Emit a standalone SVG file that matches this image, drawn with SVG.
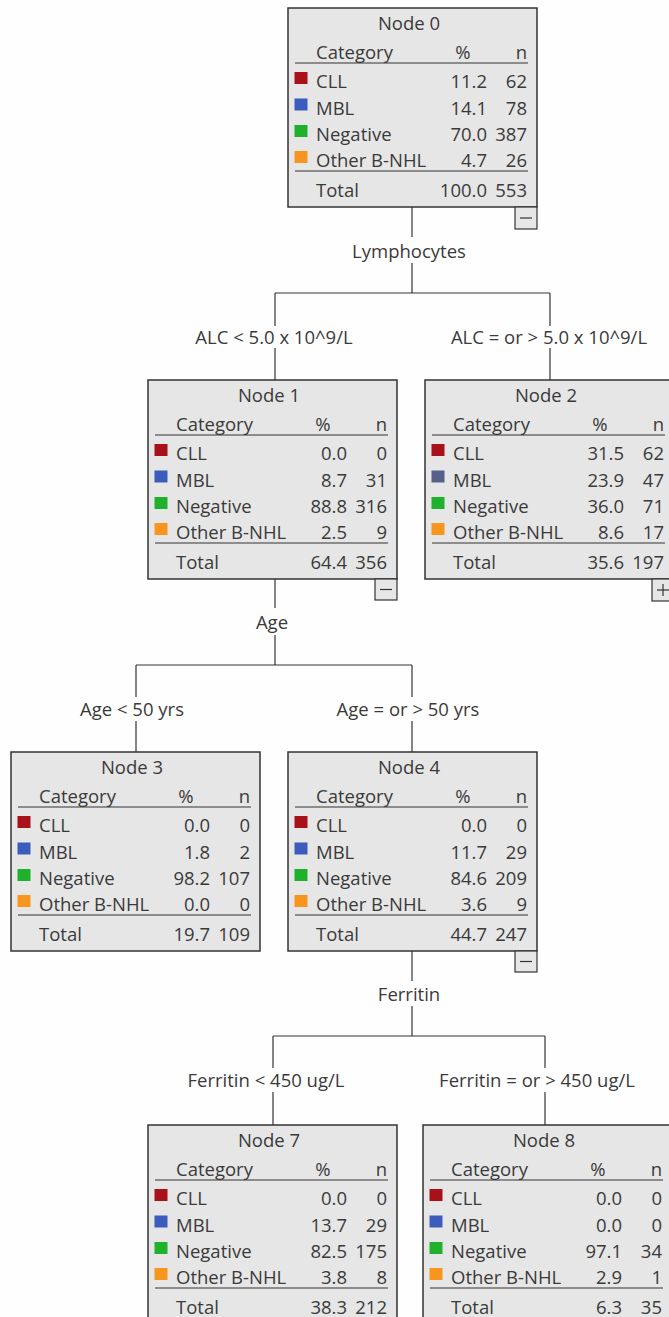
<svg xmlns="http://www.w3.org/2000/svg" width="669" height="1317" viewBox="0 0 669 1317">
<style>
text{font-family:"Open Sans","Noto Sans","Liberation Sans",sans-serif;font-size:18.5px;fill:#3a3a3a}
.box{fill:#e6e6e6;stroke:#333;stroke-width:1.5}
.rule{stroke:#333;stroke-width:1.2}
.c{text-anchor:middle}
.r{text-anchor:end}
.conn line{stroke:#333;stroke-width:1.2}
.tog{fill:#e6e6e6;stroke:#333;stroke-width:1.2}
.cll{fill:#a8101a}.mbl{fill:#3b5cbd}.mbl2{fill:#566089}.neg{fill:#1fb02c}.oth{fill:#f7951f}
</style>
<rect width="669" height="1317" fill="#fefefe"/>
<g id="connectors" class="conn">
<line x1="412" y1="207" x2="412" y2="237"/>
<line x1="412" y1="263" x2="412" y2="293"/>
<line x1="275" y1="293" x2="550" y2="293"/>
<line x1="275" y1="293" x2="275" y2="326"/>
<line x1="275" y1="348" x2="275" y2="380"/>
<line x1="550" y1="293" x2="550" y2="326"/>
<line x1="550" y1="348" x2="550" y2="380"/>
<line x1="275" y1="578" x2="275" y2="608"/>
<line x1="275" y1="635" x2="275" y2="665"/>
<line x1="136" y1="665" x2="412" y2="665"/>
<line x1="136" y1="665" x2="136" y2="697"/>
<line x1="136" y1="721" x2="136" y2="752"/>
<line x1="412" y1="665" x2="412" y2="697"/>
<line x1="412" y1="721" x2="412" y2="752"/>
<line x1="412" y1="950" x2="412" y2="981"/>
<line x1="412" y1="1006" x2="412" y2="1036"/>
<line x1="273" y1="1036" x2="545" y2="1036"/>
<line x1="273" y1="1036" x2="273" y2="1068"/>
<line x1="273" y1="1092" x2="273" y2="1125"/>
<line x1="545" y1="1036" x2="545" y2="1068"/>
<line x1="545" y1="1092" x2="545" y2="1125"/>
</g>
<g id="labels">
<text x="409" y="258" class="c">Lymphocytes</text>
<text x="274" y="344" class="c">ALC &lt; 5.0 x 10^9/L</text>
<text x="549" y="344" class="c">ALC = or &gt; 5.0 x 10^9/L</text>
<text x="272" y="629" class="c">Age</text>
<text x="132" y="716" class="c">Age &lt; 50 yrs</text>
<text x="408" y="716" class="c">Age = or &gt; 50 yrs</text>
<text x="409" y="1001" class="c">Ferritin</text>
<text x="266" y="1087" class="c">Ferritin &lt; 450 ug/L</text>
<text x="537" y="1087" class="c">Ferritin = or &gt; 450 ug/L</text>
</g>
<g id="node0" transform="translate(288,8)">
<rect class="box" width="249" height="199"/>
<text x="121" y="22" class="c">Node 0</text>
<text x="28" y="51">Category</text><text x="175" y="51" class="c">%</text><text x="239" y="51" class="r">n</text>
<line class="rule" x1="7" y1="55" x2="240" y2="55"/>
<rect class="cll" x="6.5" y="64" width="13" height="12"/><text x="28" y="80">CLL</text><text x="199" y="80" class="r">11.2</text><text x="239" y="80" class="r">62</text>
<rect class="mbl" x="6.5" y="90.5" width="13" height="12"/><text x="28" y="106.5">MBL</text><text x="199" y="106.5" class="r">14.1</text><text x="239" y="106.5" class="r">78</text>
<rect class="neg" x="6.5" y="117" width="13" height="12"/><text x="28" y="133">Negative</text><text x="199" y="133" class="r">70.0</text><text x="239" y="133" class="r">387</text>
<rect class="oth" x="6.5" y="143" width="13" height="12"/><text x="28" y="159">Other B-NHL</text><text x="199" y="159" class="r">4.7</text><text x="239" y="159" class="r">26</text>
<line class="rule" x1="7" y1="163" x2="240" y2="163"/>
<text x="28" y="189">Total</text><text x="199" y="189" class="r">100.0</text><text x="239" y="189" class="r">553</text>
<rect class="tog" x="227" y="199" width="22" height="22"/><line class="rule" x1="232" y1="210" x2="244" y2="210"/>
</g>
<g id="node1" transform="translate(148,380)">
<rect class="box" width="249" height="199"/>
<text x="121" y="22" class="c">Node 1</text>
<text x="28" y="51">Category</text><text x="175" y="51" class="c">%</text><text x="239" y="51" class="r">n</text>
<line class="rule" x1="7" y1="55" x2="240" y2="55"/>
<rect class="cll" x="6.5" y="64" width="13" height="12"/><text x="28" y="80">CLL</text><text x="199" y="80" class="r">0.0</text><text x="239" y="80" class="r">0</text>
<rect class="mbl" x="6.5" y="90.5" width="13" height="12"/><text x="28" y="106.5">MBL</text><text x="199" y="106.5" class="r">8.7</text><text x="239" y="106.5" class="r">31</text>
<rect class="neg" x="6.5" y="117" width="13" height="12"/><text x="28" y="133">Negative</text><text x="199" y="133" class="r">88.8</text><text x="239" y="133" class="r">316</text>
<rect class="oth" x="6.5" y="143" width="13" height="12"/><text x="28" y="159">Other B-NHL</text><text x="199" y="159" class="r">2.5</text><text x="239" y="159" class="r">9</text>
<line class="rule" x1="7" y1="163" x2="240" y2="163"/>
<text x="28" y="189">Total</text><text x="199" y="189" class="r">64.4</text><text x="239" y="189" class="r">356</text>
<rect class="tog" x="227" y="199" width="22" height="21"/><line class="rule" x1="232" y1="209.5" x2="244" y2="209.5"/>
</g>
<g id="node2" transform="translate(425,380)">
<rect class="box" width="249" height="199"/>
<text x="121" y="22" class="c">Node 2</text>
<text x="28" y="51">Category</text><text x="175" y="51" class="c">%</text><text x="239" y="51" class="r">n</text>
<line class="rule" x1="7" y1="55" x2="240" y2="55"/>
<rect class="cll" x="6.5" y="64" width="13" height="12"/><text x="28" y="80">CLL</text><text x="199" y="80" class="r">31.5</text><text x="239" y="80" class="r">62</text>
<rect class="mbl2" x="6.5" y="90.5" width="13" height="12"/><text x="28" y="106.5">MBL</text><text x="199" y="106.5" class="r">23.9</text><text x="239" y="106.5" class="r">47</text>
<rect class="neg" x="6.5" y="117" width="13" height="12"/><text x="28" y="133">Negative</text><text x="199" y="133" class="r">36.0</text><text x="239" y="133" class="r">71</text>
<rect class="oth" x="6.5" y="143" width="13" height="12"/><text x="28" y="159">Other B-NHL</text><text x="199" y="159" class="r">8.6</text><text x="239" y="159" class="r">17</text>
<line class="rule" x1="7" y1="163" x2="240" y2="163"/>
<text x="28" y="189">Total</text><text x="199" y="189" class="r">35.6</text><text x="239" y="189" class="r">197</text>
<rect class="tog" x="227" y="199" width="22" height="22"/><line class="rule" x1="232" y1="210" x2="244" y2="210"/><line class="rule" x1="238" y1="204" x2="238" y2="216"/>
</g>
<g id="node3" transform="translate(11,752)">
<rect class="box" width="249" height="199"/>
<text x="121" y="22" class="c">Node 3</text>
<text x="28" y="51">Category</text><text x="175" y="51" class="c">%</text><text x="239" y="51" class="r">n</text>
<line class="rule" x1="7" y1="55" x2="240" y2="55"/>
<rect class="cll" x="6.5" y="64" width="13" height="12"/><text x="28" y="80">CLL</text><text x="199" y="80" class="r">0.0</text><text x="239" y="80" class="r">0</text>
<rect class="mbl" x="6.5" y="90.5" width="13" height="12"/><text x="28" y="106.5">MBL</text><text x="199" y="106.5" class="r">1.8</text><text x="239" y="106.5" class="r">2</text>
<rect class="neg" x="6.5" y="117" width="13" height="12"/><text x="28" y="133">Negative</text><text x="199" y="133" class="r">98.2</text><text x="239" y="133" class="r">107</text>
<rect class="oth" x="6.5" y="143" width="13" height="12"/><text x="28" y="159">Other B-NHL</text><text x="199" y="159" class="r">0.0</text><text x="239" y="159" class="r">0</text>
<line class="rule" x1="7" y1="163" x2="240" y2="163"/>
<text x="28" y="189">Total</text><text x="199" y="189" class="r">19.7</text><text x="239" y="189" class="r">109</text>
</g>
<g id="node4" transform="translate(288,752)">
<rect class="box" width="249" height="199"/>
<text x="121" y="22" class="c">Node 4</text>
<text x="28" y="51">Category</text><text x="175" y="51" class="c">%</text><text x="239" y="51" class="r">n</text>
<line class="rule" x1="7" y1="55" x2="240" y2="55"/>
<rect class="cll" x="6.5" y="64" width="13" height="12"/><text x="28" y="80">CLL</text><text x="199" y="80" class="r">0.0</text><text x="239" y="80" class="r">0</text>
<rect class="mbl" x="6.5" y="90.5" width="13" height="12"/><text x="28" y="106.5">MBL</text><text x="199" y="106.5" class="r">11.7</text><text x="239" y="106.5" class="r">29</text>
<rect class="neg" x="6.5" y="117" width="13" height="12"/><text x="28" y="133">Negative</text><text x="199" y="133" class="r">84.6</text><text x="239" y="133" class="r">209</text>
<rect class="oth" x="6.5" y="143" width="13" height="12"/><text x="28" y="159">Other B-NHL</text><text x="199" y="159" class="r">3.6</text><text x="239" y="159" class="r">9</text>
<line class="rule" x1="7" y1="163" x2="240" y2="163"/>
<text x="28" y="189">Total</text><text x="199" y="189" class="r">44.7</text><text x="239" y="189" class="r">247</text>
<rect class="tog" x="227" y="199" width="22" height="21"/><line class="rule" x1="232" y1="209.5" x2="244" y2="209.5"/>
</g>
<g id="node7" transform="translate(148,1125)">
<rect class="box" width="249" height="199"/>
<text x="121" y="22" class="c">Node 7</text>
<text x="28" y="51">Category</text><text x="175" y="51" class="c">%</text><text x="239" y="51" class="r">n</text>
<line class="rule" x1="7" y1="55" x2="240" y2="55"/>
<rect class="cll" x="6.5" y="64" width="13" height="12"/><text x="28" y="80">CLL</text><text x="199" y="80" class="r">0.0</text><text x="239" y="80" class="r">0</text>
<rect class="mbl" x="6.5" y="90.5" width="13" height="12"/><text x="28" y="106.5">MBL</text><text x="199" y="106.5" class="r">13.7</text><text x="239" y="106.5" class="r">29</text>
<rect class="neg" x="6.5" y="117" width="13" height="12"/><text x="28" y="133">Negative</text><text x="199" y="133" class="r">82.5</text><text x="239" y="133" class="r">175</text>
<rect class="oth" x="6.5" y="143" width="13" height="12"/><text x="28" y="159">Other B-NHL</text><text x="199" y="159" class="r">3.8</text><text x="239" y="159" class="r">8</text>
<line class="rule" x1="7" y1="163" x2="240" y2="163"/>
<text x="28" y="189">Total</text><text x="199" y="189" class="r">38.3</text><text x="239" y="189" class="r">212</text>
</g>
<g id="node8" transform="translate(423,1125)">
<rect class="box" width="249" height="199"/>
<text x="121" y="22" class="c">Node 8</text>
<text x="28" y="51">Category</text><text x="175" y="51" class="c">%</text><text x="239" y="51" class="r">n</text>
<line class="rule" x1="7" y1="55" x2="240" y2="55"/>
<rect class="cll" x="6.5" y="64" width="13" height="12"/><text x="28" y="80">CLL</text><text x="199" y="80" class="r">0.0</text><text x="239" y="80" class="r">0</text>
<rect class="mbl" x="6.5" y="90.5" width="13" height="12"/><text x="28" y="106.5">MBL</text><text x="199" y="106.5" class="r">0.0</text><text x="239" y="106.5" class="r">0</text>
<rect class="neg" x="6.5" y="117" width="13" height="12"/><text x="28" y="133">Negative</text><text x="199" y="133" class="r">97.1</text><text x="239" y="133" class="r">34</text>
<rect class="oth" x="6.5" y="143" width="13" height="12"/><text x="28" y="159">Other B-NHL</text><text x="199" y="159" class="r">2.9</text><text x="239" y="159" class="r">1</text>
<line class="rule" x1="7" y1="163" x2="240" y2="163"/>
<text x="28" y="189">Total</text><text x="199" y="189" class="r">6.3</text><text x="239" y="189" class="r">35</text>
</g>
</svg>
